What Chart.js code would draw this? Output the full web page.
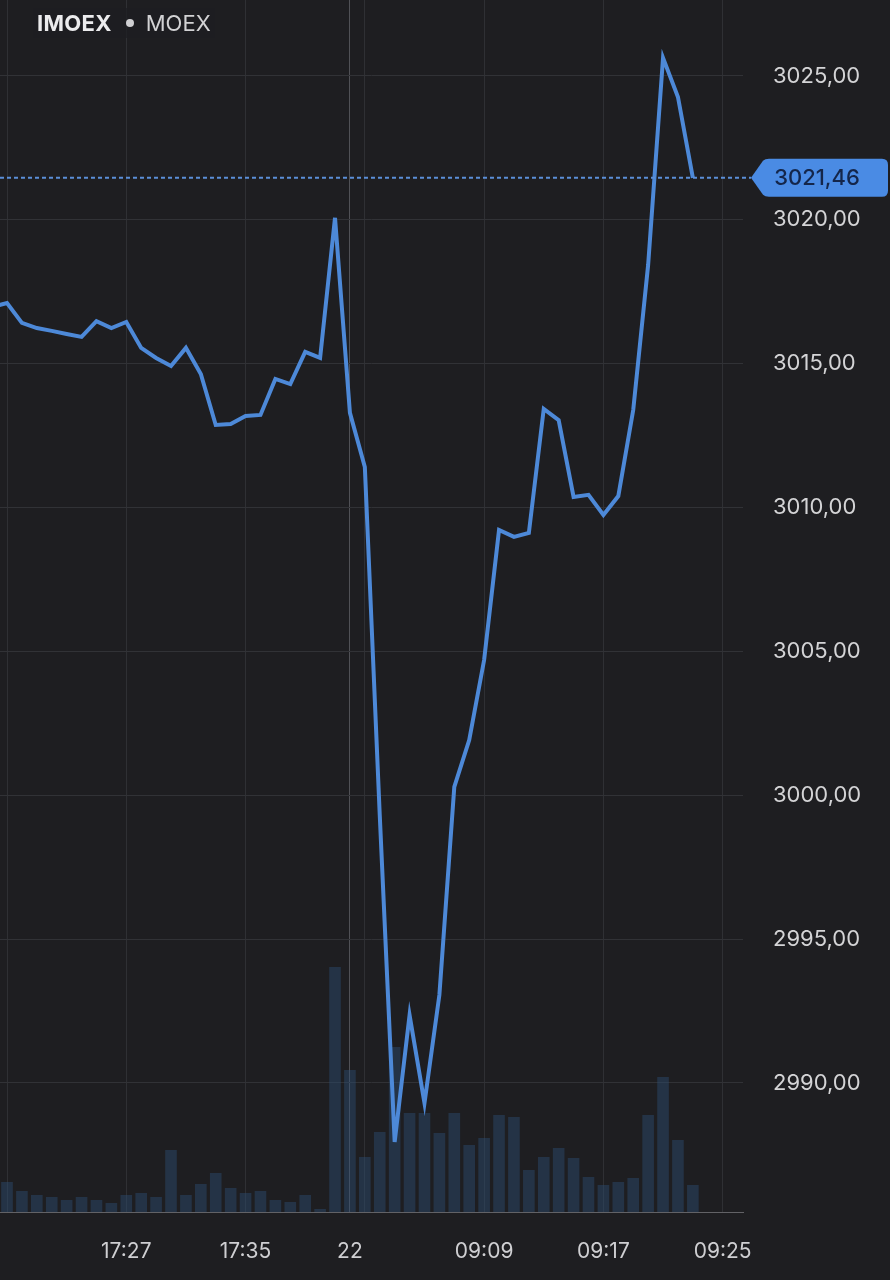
<!DOCTYPE html>
<html>
<head>
<meta charset="utf-8">
<script src="https://cdn.jsdelivr.net/npm/chart.js@4"></script>
<style>
  html, body { margin: 0; padding: 0; background: #1e1e21; }
  #wrap { position: relative; width: 890px; height: 1280px; }
  #title {
    position: absolute; left: 33px; top: 8px; padding: 2px 4px;
    font-family: Inter, "Noto Sans", sans-serif; font-size: 22px;
    color: #d2d2d4; background: rgba(30, 30, 33, 0.75);
    display: flex; align-items: center; gap: 0;
  }
  #title b { color: #ececee; font-weight: 700; letter-spacing: 0.3px; }
  #title .dot { display: inline-block; width: 8px; height: 8px; border-radius: 50%;
    background: #cfcfd2; margin: 0 12px 0 14px; }
</style>
</head>
<body>
<div id="wrap">
  <canvas id="chart" width="890" height="1280"></canvas>
  <div id="title"><b>IMOEX</b><span class="dot"></span><span>MOEX</span></div>
</div>
<script>
// Minute bars: evening session of the 21st, then the morning of the 22nd
const times = [
    '17:18', '17:19', '17:20', '17:21', '17:22', '17:23', '17:24', '17:25',
    '17:26', '17:27', '17:28', '17:29', '17:30', '17:31', '17:32', '17:33',
    '17:34', '17:35', '17:36', '17:37', '17:38', '17:39', '17:40', '17:41',
    '09:00', '09:01', '09:02', '09:03', '09:04', '09:05', '09:06', '09:07',
    '09:08', '09:09', '09:10', '09:11', '09:12', '09:13', '09:14', '09:15',
    '09:16', '09:17', '09:18', '09:19', '09:20', '09:21', '09:22', '09:23'
];

const prices = [
    3016.97, 3017.11, 3016.42, 3016.24, 3016.14, 3016.03, 3015.93, 3016.48,
    3016.24, 3016.45, 3015.55, 3015.20, 3014.92, 3015.55, 3014.64, 3012.87,
    3012.90, 3013.18, 3013.22, 3014.47, 3014.29, 3015.41, 3015.20, 3020.07,
    3013.29, 3011.41, 2999.31, 2987.95, 2992.36, 2989.30, 2993.06, 3000.29,
    3001.92, 3004.70, 3009.22, 3008.98, 3009.12, 3013.43, 3013.04, 3010.37,
    3010.44, 3009.74, 3010.40, 3013.39, 3018.43, 3025.63, 3024.27, 3021.46
];

const volumes = [
    28, 30, 21, 17, 15, 12, 15, 12,
    9, 17, 19, 15, 62, 17, 28, 39,
    24, 19, 21, 12, 10, 17, 3, 245,
    142, 55, 80, 165, 99, 99, 79, 99,
    67, 74, 97, 95, 42, 55, 64, 54,
    35, 27, 30, 34, 97, 135, 72, 27
];

const yTicks = [2990, 2995, 3000, 3005, 3010, 3015, 3020, 3025];
const xTickIndex = [1, 9, 17, 24, 25, 33, 41, 49];
const xTickLabels = ['', '17:27', '17:35', '22', '', '09:09', '09:17', '09:25'];
const sessionStart = 24;
const lastPrice = prices[prices.length - 1];

const fmt = v => v.toFixed(2).replace('.', ',');

// Dotted last-price line and the price tag on the axis
const lastPriceTag = {
    id: 'lastPriceTag',
    afterDraw(chart) {
        const ctx = chart.ctx;
        const y = chart.scales.y.getPixelForValue(lastPrice);
        const tip = 751, right = 888, h = 19, r = 6;

        ctx.save();
        ctx.setLineDash([4, 3]);
        ctx.strokeStyle = '#5b8fd8';
        ctx.lineWidth = 2;
        ctx.beginPath();
        ctx.moveTo(0, y);
        ctx.lineTo(tip, y);
        ctx.stroke();
        ctx.setLineDash([]);

        ctx.beginPath();
        ctx.moveTo(tip, y);
        ctx.lineTo(tip + 12, y - h + 2);
        ctx.quadraticCurveTo(tip + 14, y - h, tip + 18, y - h);
        ctx.lineTo(right - r, y - h);
        ctx.quadraticCurveTo(right, y - h, right, y - h + r);
        ctx.lineTo(right, y + h - r);
        ctx.quadraticCurveTo(right, y + h, right - r, y + h);
        ctx.lineTo(tip + 18, y + h);
        ctx.quadraticCurveTo(tip + 14, y + h, tip + 12, y + h - 2);
        ctx.closePath();
        ctx.fillStyle = '#4a8be4';
        ctx.fill();

        ctx.fillStyle = '#14264a';
        ctx.font = '500 22px Inter, "Noto Sans", sans-serif';
        ctx.textAlign = 'center';
        ctx.textBaseline = 'middle';
        ctx.fillText(fmt(lastPrice), 817, y + 1);
        ctx.restore();
    }
};

const ctx = document.getElementById('chart');

new Chart(ctx, {
    data: {
        datasets: [
            {
                type: 'line',
                label: 'IMOEX',
                data: prices.map((p, i) => ({ x: i, y: p })),
                yAxisID: 'y',
                borderColor: '#4d89d8',
                borderWidth: 4,
                borderJoinStyle: 'miter',
                pointRadius: 0,
                tension: 0,
                order: 0
            },
            {
                type: 'bar',
                label: 'Volume',
                data: volumes.map((v, i) => ({ x: i, y: v })),
                yAxisID: 'vol',
                backgroundColor: 'rgba(44, 78, 116, 0.45)',
                borderWidth: 0,
                barPercentage: 0.78,
                categoryPercentage: 1,
                order: 1
            }
        ]
    },
    options: {
        responsive: false,
        animation: false,
        devicePixelRatio: 1,
        layout: { padding: 0 },
        plugins: {
            legend: { display: false },
            tooltip: { enabled: false }
        },
        scales: {
            x: {
                type: 'linear',
                offset: false,
                min: 1 - 7 / 14.91,
                max: 1 + 736 / 14.91,
                afterBuildTicks: scale => {
                    scale.ticks = xTickIndex.map(v => ({ value: v }));
                },
                afterFit: scale => {
                    scale.height = 68;
                    scale.paddingLeft = 0;
                    scale.paddingRight = 0;
                },
                grid: {
                    offset: false,
                    drawTicks: false,
                    color: c => c.tick && c.tick.value === sessionStart ? '#505156' : '#2f3034',
                    lineWidth: 1
                },
                border: { display: true, color: '#626266', width: 1 },
                ticks: {
                    autoSkip: false,
                    maxRotation: 0,
                    padding: 27,
                    color: '#cfcfd2',
                    font: { family: 'Inter, "Noto Sans", sans-serif', size: 21 },
                    callback: (v, i) => xTickLabels[i]
                }
            },
            y: {
                position: 'right',
                min: 3025 - 1136 / 28.77,
                max: 3025 + 76 / 28.77,
                afterBuildTicks: scale => {
                    scale.ticks = yTicks.map(v => ({ value: v }));
                },
                afterFit: scale => {
                    scale.width = 147;
                    scale.paddingTop = 0;
                    scale.paddingBottom = 0;
                },
                grid: { drawTicks: false, color: '#313236', lineWidth: 1 },
                border: { display: false },
                ticks: {
                    padding: 30,
                    color: '#d4d4d6',
                    font: { family: 'Inter, "Noto Sans", sans-serif', size: 22 },
                    callback: v => fmt(v)
                }
            },
            vol: {
                display: false,
                min: 0,
                max: 1212
            }
        }
    },
    plugins: [lastPriceTag]
});
</script>
</body>
</html>
